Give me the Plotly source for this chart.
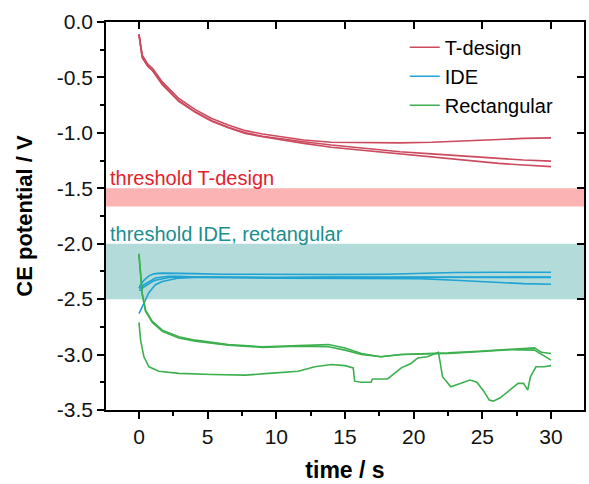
import plotly.graph_objects as go

# ---------------- data ----------------
t_T = [0, 0.1, 0.24, 0.64, 1.0, 1.7, 2.9, 4.1, 5.3, 6.5, 7.75, 9.0, 10.6, 12.0,
       14.0, 16.5, 19.0, 21.3, 23.7, 26.2, 28.0, 30]
T1 = [-0.11, -0.21, -0.30, -0.38, -0.42, -0.54, -0.69, -0.79, -0.87, -0.93, -0.98,
      -1.01, -1.04, -1.065, -1.085, -1.09, -1.09, -1.085, -1.07, -1.06, -1.05, -1.045]
T2 = [-0.11, -0.21, -0.32, -0.40, -0.44, -0.56, -0.71, -0.81, -0.89, -0.95, -1.0,
      -1.03, -1.06, -1.08, -1.11, -1.14, -1.17, -1.19, -1.21, -1.235, -1.245, -1.255]
T3 = [-0.12, -0.22, -0.32, -0.40, -0.44, -0.565, -0.715, -0.815, -0.895, -0.955, -1.005,
      -1.035, -1.07, -1.095, -1.13, -1.16, -1.19, -1.215, -1.245, -1.275, -1.29, -1.305]

t_I = [0, 0.12, 0.36, 0.73, 1.0, 1.2, 1.7, 2.2, 2.9, 4, 6, 10, 14, 18, 20.5, 23, 26, 28, 30]
I1 = [-2.40, -2.37, -2.33, -2.29, -2.275, -2.27, -2.265, -2.265, -2.268, -2.27, -2.275,
      -2.278, -2.278, -2.275, -2.265, -2.26, -2.258, -2.256, -2.258]
I2 = [-2.40, -2.40, -2.37, -2.34, -2.32, -2.31, -2.30, -2.295, -2.295, -2.30, -2.30,
      -2.305, -2.30, -2.30, -2.30, -2.30, -2.30, -2.30, -2.305]
I3 = [-2.42, -2.42, -2.39, -2.36, -2.34, -2.33, -2.315, -2.305, -2.30, -2.30, -2.305,
      -2.31, -2.31, -2.31, -2.315, -2.33, -2.35, -2.36, -2.365]
I4 = [-2.63, -2.60, -2.53, -2.44, -2.40, -2.37, -2.34, -2.325, -2.31, -2.305, -2.305,
      -2.30, -2.30, -2.30, -2.30, -2.30, -2.30, -2.30, -2.30]

t_G = [0, 0.12, 0.24, 0.48, 0.97, 1.7, 2.9, 4.1, 6.5, 9.0, 11.6, 13.8, 15.0, 16.2,
       17.6, 19.1, 21.0, 22.5, 24.7, 27.1, 28.8, 29.3, 30]
G1 = [-2.09, -2.27, -2.45, -2.60, -2.70, -2.78, -2.84, -2.87, -2.91, -2.93, -2.92,
      -2.91, -2.94, -2.99, -3.02, -3.0, -2.99, -2.985, -2.97, -2.95, -2.94, -2.98, -2.99]
G2 = [-2.10, -2.28, -2.46, -2.61, -2.71, -2.79, -2.85, -2.88, -2.915, -2.935, -2.925,
      -2.93, -2.96, -3.0, -3.02, -3.0, -2.995, -2.99, -2.975, -2.955, -2.96, -3.0, -3.05]

t_G3 = [0, 0.12, 0.36, 0.73, 1.45, 2.9, 5.3, 7.75, 9.45, 11.6, 12.8, 14.0, 15.0, 15.6,
        15.7, 16.2, 16.9, 17.0, 18.1, 18.6, 19.1, 19.8, 20.3, 21.0, 21.8, 21.9, 22.1,
        22.7, 23.4, 24.1, 24.6, 25.1, 25.5, 25.8, 26.3, 26.9, 27.6, 28.0, 28.3, 28.5,
        28.9, 29.5, 30]
G3 = [-2.71, -2.87, -3.02, -3.11, -3.15, -3.17, -3.18, -3.185, -3.17, -3.15, -3.11,
      -3.09, -3.10, -3.12, -3.24, -3.25, -3.25, -3.22, -3.22, -3.17, -3.12, -3.08,
      -3.03, -3.02, -2.98, -3.05, -3.20, -3.29, -3.26, -3.23, -3.25, -3.33, -3.41,
      -3.42, -3.39, -3.33, -3.26, -3.26, -3.32, -3.20, -3.11, -3.11, -3.10]

threshold_T = [-1.5, -1.665]
threshold_IDE = [-2.0, -2.5]

series_names = ["T-design", "IDE", "Rectangular"]

x_tickvals = [0, 5, 10, 15, 20, 25, 30]
x_minor = [2.5, 7.5, 12.5, 17.5, 22.5, 27.5]
y_tickvals = [0, -0.5, -1.0, -1.5, -2.0, -2.5, -3.0, -3.5]
y_ticktext = ["0.0", "-0.5", "-1.0", "-1.5", "-2.0", "-2.5", "-3.0", "-3.5"]
y_minor = [-0.25, -0.75, -1.25, -1.75, -2.25, -2.75, -3.25]

# ---------------- styles ----------------
C_T = "#cc4a5e"
C_I = "#1ea3d4"
C_G = "#3cb04e"
FONT = "Liberation Sans, Arial, sans-serif"

fig = go.Figure()

def add(x, y, color, name, show):
    fig.add_trace(go.Scatter(x=x, y=y, mode="lines", name=name, legendgroup=name,
                             showlegend=show, line=dict(color=color, width=1.6)))

add(t_T, T1, C_T, series_names[0], True)
add(t_T, T2, C_T, series_names[0], False)
add(t_T, T3, C_T, series_names[0], False)
add(t_I, I1, C_I, series_names[1], True)
add(t_I, I2, C_I, series_names[1], False)
add(t_I, I3, C_I, series_names[1], False)
add(t_I, I4, C_I, series_names[1], False)
add(t_G, G1, C_G, series_names[2], True)
add(t_G, G2, C_G, series_names[2], False)
add(t_G3, G3, C_G, series_names[2], False)

# invisible trace for the mirrored (inner-tick) axes
fig.add_trace(go.Scatter(x=[0], y=[0], xaxis="x2", yaxis="y2", mode="markers",
                         marker=dict(opacity=0), showlegend=False, hoverinfo="skip"))

XR = [-2.4, 32.4]
YR = [-3.5, 0.0]

fig.add_shape(type="rect", xref="paper", x0=0, x1=1, yref="y",
              y0=threshold_T[0], y1=threshold_T[1], fillcolor="#fbb3b3",
              line=dict(width=0), layer="below")
fig.add_shape(type="rect", xref="paper", x0=0, x1=1, yref="y",
              y0=threshold_IDE[0], y1=threshold_IDE[1], fillcolor="#b3dbda",
              line=dict(width=0), layer="below")

fig.add_annotation(text="threshold T-design", xref="paper", x=0, xanchor="left", xshift=2,
                   yref="y", y=threshold_T[0], yanchor="bottom", yshift=-3, showarrow=False,
                   font=dict(family=FONT, size=20, color="#e1222c"))
fig.add_annotation(text="threshold IDE, rectangular", xref="paper", x=0, xanchor="left",
                   xshift=2, yref="y", y=threshold_IDE[0], yanchor="bottom", yshift=-3,
                   showarrow=False, font=dict(family=FONT, size=20, color="#1b8e8e"))

axis_common = dict(showline=True, linecolor="black", linewidth=1.5, mirror=True,
                   showgrid=False, zeroline=False, ticks="outside", tickwidth=1.5,
                   ticklen=7, tickcolor="black",
                   tickfont=dict(family=FONT, size=21, color="#111"))

fig.update_layout(
    width=589, height=484,
    margin=dict(l=106, r=3, t=22, b=74),
    paper_bgcolor="white", plot_bgcolor="white",
    font=dict(family=FONT, size=20, color="black"),
    xaxis=dict(range=XR, tickvals=x_tickvals,
               minor=dict(tickvals=x_minor, ticklen=4,
                          tickwidth=1.5, tickcolor="black", ticks="outside"),
               title=dict(text="<b>time / s</b>", standoff=15,
                          font=dict(family=FONT, size=23)),
               **axis_common),
    yaxis=dict(range=YR, tickvals=y_tickvals, ticktext=y_ticktext,
               minor=dict(tickvals=y_minor,
                          ticklen=4, tickwidth=1.5, tickcolor="black", ticks="outside"),
               title=dict(text="<b>CE potential / V</b>", standoff=18,
                          font=dict(family=FONT, size=22)),
               **axis_common),
    xaxis2=dict(range=XR, overlaying="x", side="top", anchor="y2",
                tickvals=x_tickvals, ticks="inside", ticklen=7,
                tickwidth=1.5, tickcolor="black", showticklabels=False,
                showgrid=False, zeroline=False, showline=False),
    yaxis2=dict(range=YR, overlaying="y", side="right", anchor="x2",
                tickvals=y_tickvals, ticks="inside",
                ticklen=7, tickwidth=1.5, tickcolor="black", showticklabels=False,
                showgrid=False, zeroline=False, showline=False),
    legend=dict(x=0.625, y=0.985, xanchor="left", yanchor="top",
                bgcolor="rgba(0,0,0,0)", font=dict(family=FONT, size=20),
                tracegroupgap=0, itemwidth=30),
    showlegend=True,
)

fig.write_html("out.html", config={"displayModeBar": False},
               post_script="document.body.style.margin='0';document.body.style.padding='0';")
